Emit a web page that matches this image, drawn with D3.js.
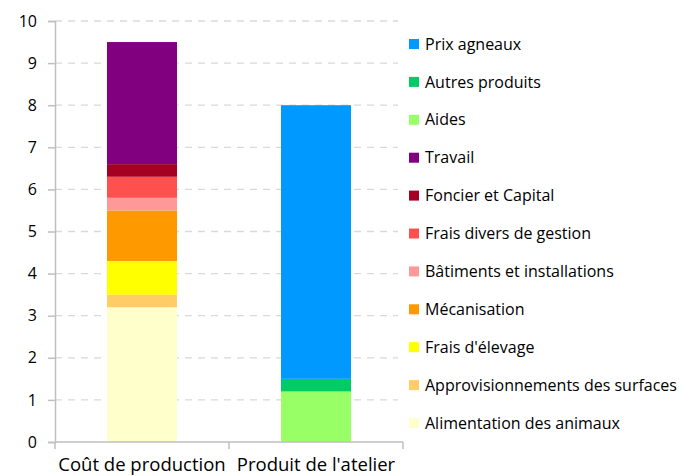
<!DOCTYPE html>
<html><head><meta charset="utf-8">
<script src="https://cdn.jsdelivr.net/npm/d3@7"></script>
<style>body{margin:0;background:#fff}svg{display:block}text{font-family:"Open Sans",sans-serif;fill:#000}</style>
</head><body><svg id="c" width="681" height="476"></svg>
<script>
const categories = ["Coût de production", "Produit de l'atelier"];
const seriesNames = ["Alimentation des animaux","Approvisionnements des surfaces","Frais d'élevage","Mécanisation","Bâtiments et installations","Frais divers de gestion","Foncier et Capital","Travail","Aides","Autres produits","Prix agneaux"];
const coutValues    = [3.2, 0.3, 0.8, 1.2, 0.3, 0.5, 0.3, 2.9, 0, 0, 0];
const produitValues = [0, 0, 0, 0, 0, 0, 0, 0, 1.2, 0.3, 6.5];
const seriesColors = ["#FFFFCC","#FFCC66","#FFFF00","#FF9900","#FF9999","#FF5050","#A50021","#800080","#99FF66","#00CC66","#0099FF"];
const yTicks = [0,1,2,3,4,5,6,7,8,9,10];

const svg = d3.select("#c");
const m = {left:55, right:403, top:21, bottom:442};
const x = d3.scaleBand().domain(categories).range([m.left, m.right]).paddingInner(0).paddingOuter(0);
const y = d3.scaleLinear().domain([0,10]).range([m.bottom, m.top]);

// gridlines
svg.append("g").selectAll("line").data(yTicks.filter(d=>d>0)).join("line")
  .attr("x1", m.left).attr("x2", 398).attr("y1", d=>y(d)).attr("y2", d=>y(d))
  .attr("stroke","#d9d9d9").attr("stroke-width",1.3).attr("stroke-dasharray","7,6");

// stacked data
const rows = categories.map((c,i)=>{ const o={cat:c}; seriesNames.forEach((s,j)=>{o[s]= i===0?coutValues[j]:produitValues[j];}); return o;});
const stack = d3.stack().keys(seriesNames)(rows);
const bw = 70;
svg.append("g").selectAll("g").data(stack).join("g").attr("fill",(d,i)=>seriesColors[i])
  .selectAll("rect").data(d=>d.filter(p=>p[1]-p[0]>0)).join("rect")
  .attr("x", d=>x(d.data.cat)+x.bandwidth()/2-bw/2).attr("width", bw)
  .attr("y", d=>y(d[1])).attr("height", d=>y(d[0])-y(d[1]));

// y axis
const ya = d3.axisLeft(y).tickValues(yTicks).tickSize(7).tickPadding(11);
const gy = svg.append("g").attr("transform",`translate(${m.left},0)`).call(ya);
gy.select(".domain").attr("stroke","#bfbfbf").attr("stroke-width",1.5);
gy.selectAll(".tick line").attr("stroke","#bfbfbf").attr("stroke-width",1.5);
gy.selectAll("text").style("font-size","16px").style("font-family","'Open Sans',sans-serif");

// x axis
const gx = svg.append("g").attr("transform",`translate(0,${m.bottom})`);
gx.append("line").attr("x1",m.left).attr("x2",m.right).attr("stroke","#bfbfbf").attr("stroke-width",1.5);
const xb = [m.left, m.left+x.bandwidth(), m.right];
gx.selectAll("line.t").data(xb).join("line").attr("class","t").attr("x1",d=>d).attr("x2",d=>d).attr("y1",0).attr("y2",7).attr("stroke","#bfbfbf").attr("stroke-width",1.5);
gx.selectAll("text").data(categories).join("text").attr("x",d=>x(d)+x.bandwidth()/2).attr("y",29)
  .attr("text-anchor","middle").style("font-size","18.5px").text(d=>d);

// legend (reverse order)
const legendItems = seriesNames.map((s,i)=>({name:s,color:seriesColors[i]})).reverse();
const lg = svg.append("g").selectAll("g").data(legendItems).join("g")
  .attr("transform",(d,i)=>`translate(409,${44+i*37.9})`);
lg.append("rect").attr("x",0).attr("y",-5).attr("width",10).attr("height",10).attr("fill",d=>d.color);
lg.append("text").attr("x",16).attr("y",0).attr("dy","0.35em").style("font-size","16px").text(d=>d.name);
</script></body></html>
